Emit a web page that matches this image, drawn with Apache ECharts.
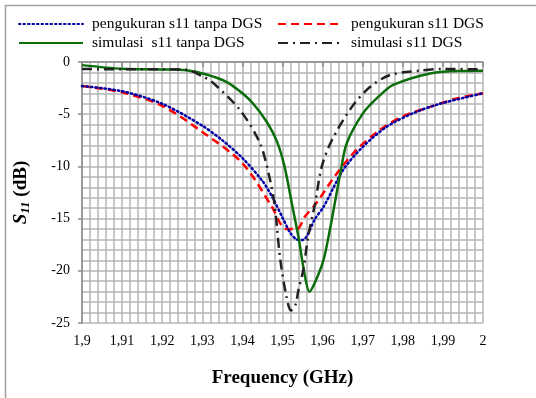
<!DOCTYPE html>
<html>
<head>
<meta charset="utf-8">
<script src="https://cdn.jsdelivr.net/npm/echarts@6/dist/echarts.min.js"></script>
<style>
    html, body { margin: 0; padding: 0; background: #fff; }
    #chart { width: 536px; height: 398px; }
</style>
</head>
<body>
<div id="chart"></div>
<script>
// pengukuran s11 tanpa DGS
var ukurTanpaF = [1.9, 1.91, 1.92, 1.93, 1.935, 1.94, 1.945, 1.9474, 1.95, 1.952, 1.9536, 1.955, 1.9562, 1.958, 1.9602, 1.9652, 1.9701, 1.976, 1.9826, 1.9893, 2.0];
var ukurTanpaDb = [-2.3, -2.8, -4.0, -6.1, -7.5, -9.2, -11.4, -12.9, -14.9, -16.4, -17.0, -17.05, -16.6, -15.1, -13.9, -10.3, -8.1, -6.2, -4.9, -4.0, -3.0];

// pengukuran s11 DGS
var ukurDgsF = [1.9, 1.91, 1.92, 1.93, 1.94, 1.9474, 1.9495, 1.951, 1.9536, 1.9556, 1.9581, 1.9635, 1.9685, 1.9743, 1.98, 1.9868, 1.9934, 2.0];
var ukurDgsDb = [-2.3, -2.9, -4.2, -6.7, -9.7, -13.9, -15.5, -16.0, -16.0, -14.8, -13.7, -10.7, -8.4, -6.5, -5.2, -4.3, -3.5, -3.0];

// simulasi s11 tanpa DGS
var simTanpaF = [1.9, 1.91, 1.92, 1.926, 1.931, 1.936, 1.94, 1.9427, 1.946, 1.9486, 1.9505, 1.9525, 1.954, 1.9555, 1.9567, 1.958, 1.9602, 1.9618, 1.963, 1.9645, 1.966, 1.9701, 1.974, 1.9776, 1.9868, 1.994, 2.0];
var simTanpaDb = [-0.3, -0.65, -0.72, -0.8, -1.2, -1.9, -3.0, -4.0, -5.7, -7.6, -10.0, -13.9, -16.8, -20.3, -22.0, -21.2, -19.0, -16.1, -13.6, -10.5, -7.8, -4.9, -3.3, -2.2, -1.1, -0.86, -0.85];

// simulasi s11 DGS
var simDgsF = [1.9, 1.91, 1.92, 1.926, 1.9302, 1.9327, 1.9394, 1.9444, 1.9469, 1.9481, 1.9494, 1.951, 1.9521, 1.9532, 1.954, 1.9552, 1.9564, 1.9581, 1.9598, 1.9623, 1.9673, 1.9718, 1.9768, 1.9843, 1.99, 2.0];
var simDgsDb = [-0.67, -0.7, -0.7, -0.75, -1.4, -2.0, -4.6, -7.8, -11.3, -13.9, -18.8, -22.5, -23.8, -23.3, -21.8, -19.9, -16.7, -13.6, -10.0, -7.5, -4.3, -2.4, -1.25, -0.83, -0.67, -0.7];

var seriesNames = ['pengukuran s11 tanpa DGS', 'pengukuran s11 DGS', 'simulasi  s11 tanpa DGS', 'simulasi s11 DGS'];

function pairs(xs, ys) {
    return xs.map(function (x, i) { return [x, ys[i]]; });
}

var serif = 'Liberation Serif';
var gridColor = '#b5b5b5';

var legendBase = {
    orient: 'vertical',
    top: 11,
    itemWidth: 64, itemHeight: 14, itemGap: 3,
    itemStyle: { opacity: 0 },
    textStyle: { fontFamily: serif, fontSize: 15.5, color: '#000', padding: [0, 0, 0, 4] }
};

var chart = echarts.init(document.getElementById('chart'));
var option = {
    animation: false,
    textStyle: { fontFamily: serif, color: '#000' },
    graphic: [{
        type: 'rect',
        shape: { x: 5.5, y: 5.5, width: 600, height: 500 },
        style: { fill: 'none', stroke: '#a0a0a0', lineWidth: 1.5 },
        silent: true
    }],
    legend: [
        Object.assign({}, legendBase, { left: 13, data: [seriesNames[0], seriesNames[2]] }),
        Object.assign({}, legendBase, { left: 272, data: [seriesNames[1], seriesNames[3]] })
    ],
    grid: { left: 82, right: 53, top: 62, bottom: 75 },
    xAxis: {
        type: 'value',
        min: 1.9, max: 2.0, interval: 0.01,
        name: 'Frequency (GHz)',
        nameLocation: 'middle',
        nameGap: 46,
        nameTextStyle: { fontFamily: serif, fontSize: 19, fontWeight: 'bold', color: '#000' },
        axisLine: { lineStyle: { color: '#8c8c8c', width: 1.5 } },
        axisTick: { show: true, length: 5, lineStyle: { color: '#8c8c8c', width: 1.5 } },
        axisLabel: {
            fontFamily: serif, fontSize: 14, color: '#000', margin: 11,
            formatter: function (v) { return String(+v.toFixed(2)).replace('.', ','); }
        },
        splitLine: { show: true, lineStyle: { color: gridColor, width: 1.5 } },
        minorTick: { show: false, splitNumber: 5 },
        minorSplitLine: { show: true, lineStyle: { color: gridColor, width: 1.5 } }
    },
    yAxis: {
        type: 'value',
        min: -25, max: 0, interval: 5,
        name: '{s|S}{sub|11}{t| (dB)}',
        nameLocation: 'middle',
        nameGap: 50,
        nameTextStyle: {
            rich: {
                s: { fontFamily: serif, fontSize: 19, fontWeight: 'bold', fontStyle: 'italic', color: '#000' },
                sub: { fontFamily: serif, fontSize: 13, fontWeight: 'bold', fontStyle: 'italic', color: '#000', padding: [9, 0, 0, 0] },
                t: { fontFamily: serif, fontSize: 19, fontWeight: 'bold', color: '#000' }
            }
        },
        axisLine: { show: true, lineStyle: { color: '#8c8c8c', width: 1.5 } },
        axisTick: { show: true, length: 4, lineStyle: { color: '#8c8c8c', width: 1.5 } },
        axisLabel: { fontFamily: serif, fontSize: 14, color: '#000', margin: 12 },
        splitLine: { show: true, lineStyle: { color: gridColor, width: 1.5 } },
        minorTick: { show: false, splitNumber: 5 },
        minorSplitLine: { show: true, lineStyle: { color: gridColor, width: 1.5 } }
    },
    series: [
        {
            name: seriesNames[0], type: 'line', symbol: 'none', smooth: 0.3,
            data: pairs(ukurTanpaF, ukurTanpaDb), z: 3,
            lineStyle: { color: '#0000a8', width: 2.5, type: [1.5, 3], cap: 'round' },
            itemStyle: { color: '#0000a8' }
        },
        {
            name: seriesNames[1], type: 'line', symbol: 'none', smooth: 0.3,
            data: pairs(ukurDgsF, ukurDgsDb), z: 2,
            lineStyle: { color: '#ff0000', width: 2.5, type: [8, 5] },
            itemStyle: { color: '#ff0000' }
        },
        {
            name: seriesNames[2], type: 'line', symbol: 'none', smooth: 0.3,
            data: pairs(simTanpaF, simTanpaDb), z: 4,
            lineStyle: { color: '#0b6e0b', width: 2.5 },
            itemStyle: { color: '#0b6e0b' }
        },
        {
            name: seriesNames[3], type: 'line', symbol: 'none', smooth: 0.3,
            data: pairs(simDgsF, simDgsDb), z: 5,
            lineStyle: { color: '#222222', width: 2.5, type: [10, 5, 2, 5] },
            itemStyle: { color: '#222222' }
        }
    ]
};
chart.setOption(option);
</script>
</body>
</html>
